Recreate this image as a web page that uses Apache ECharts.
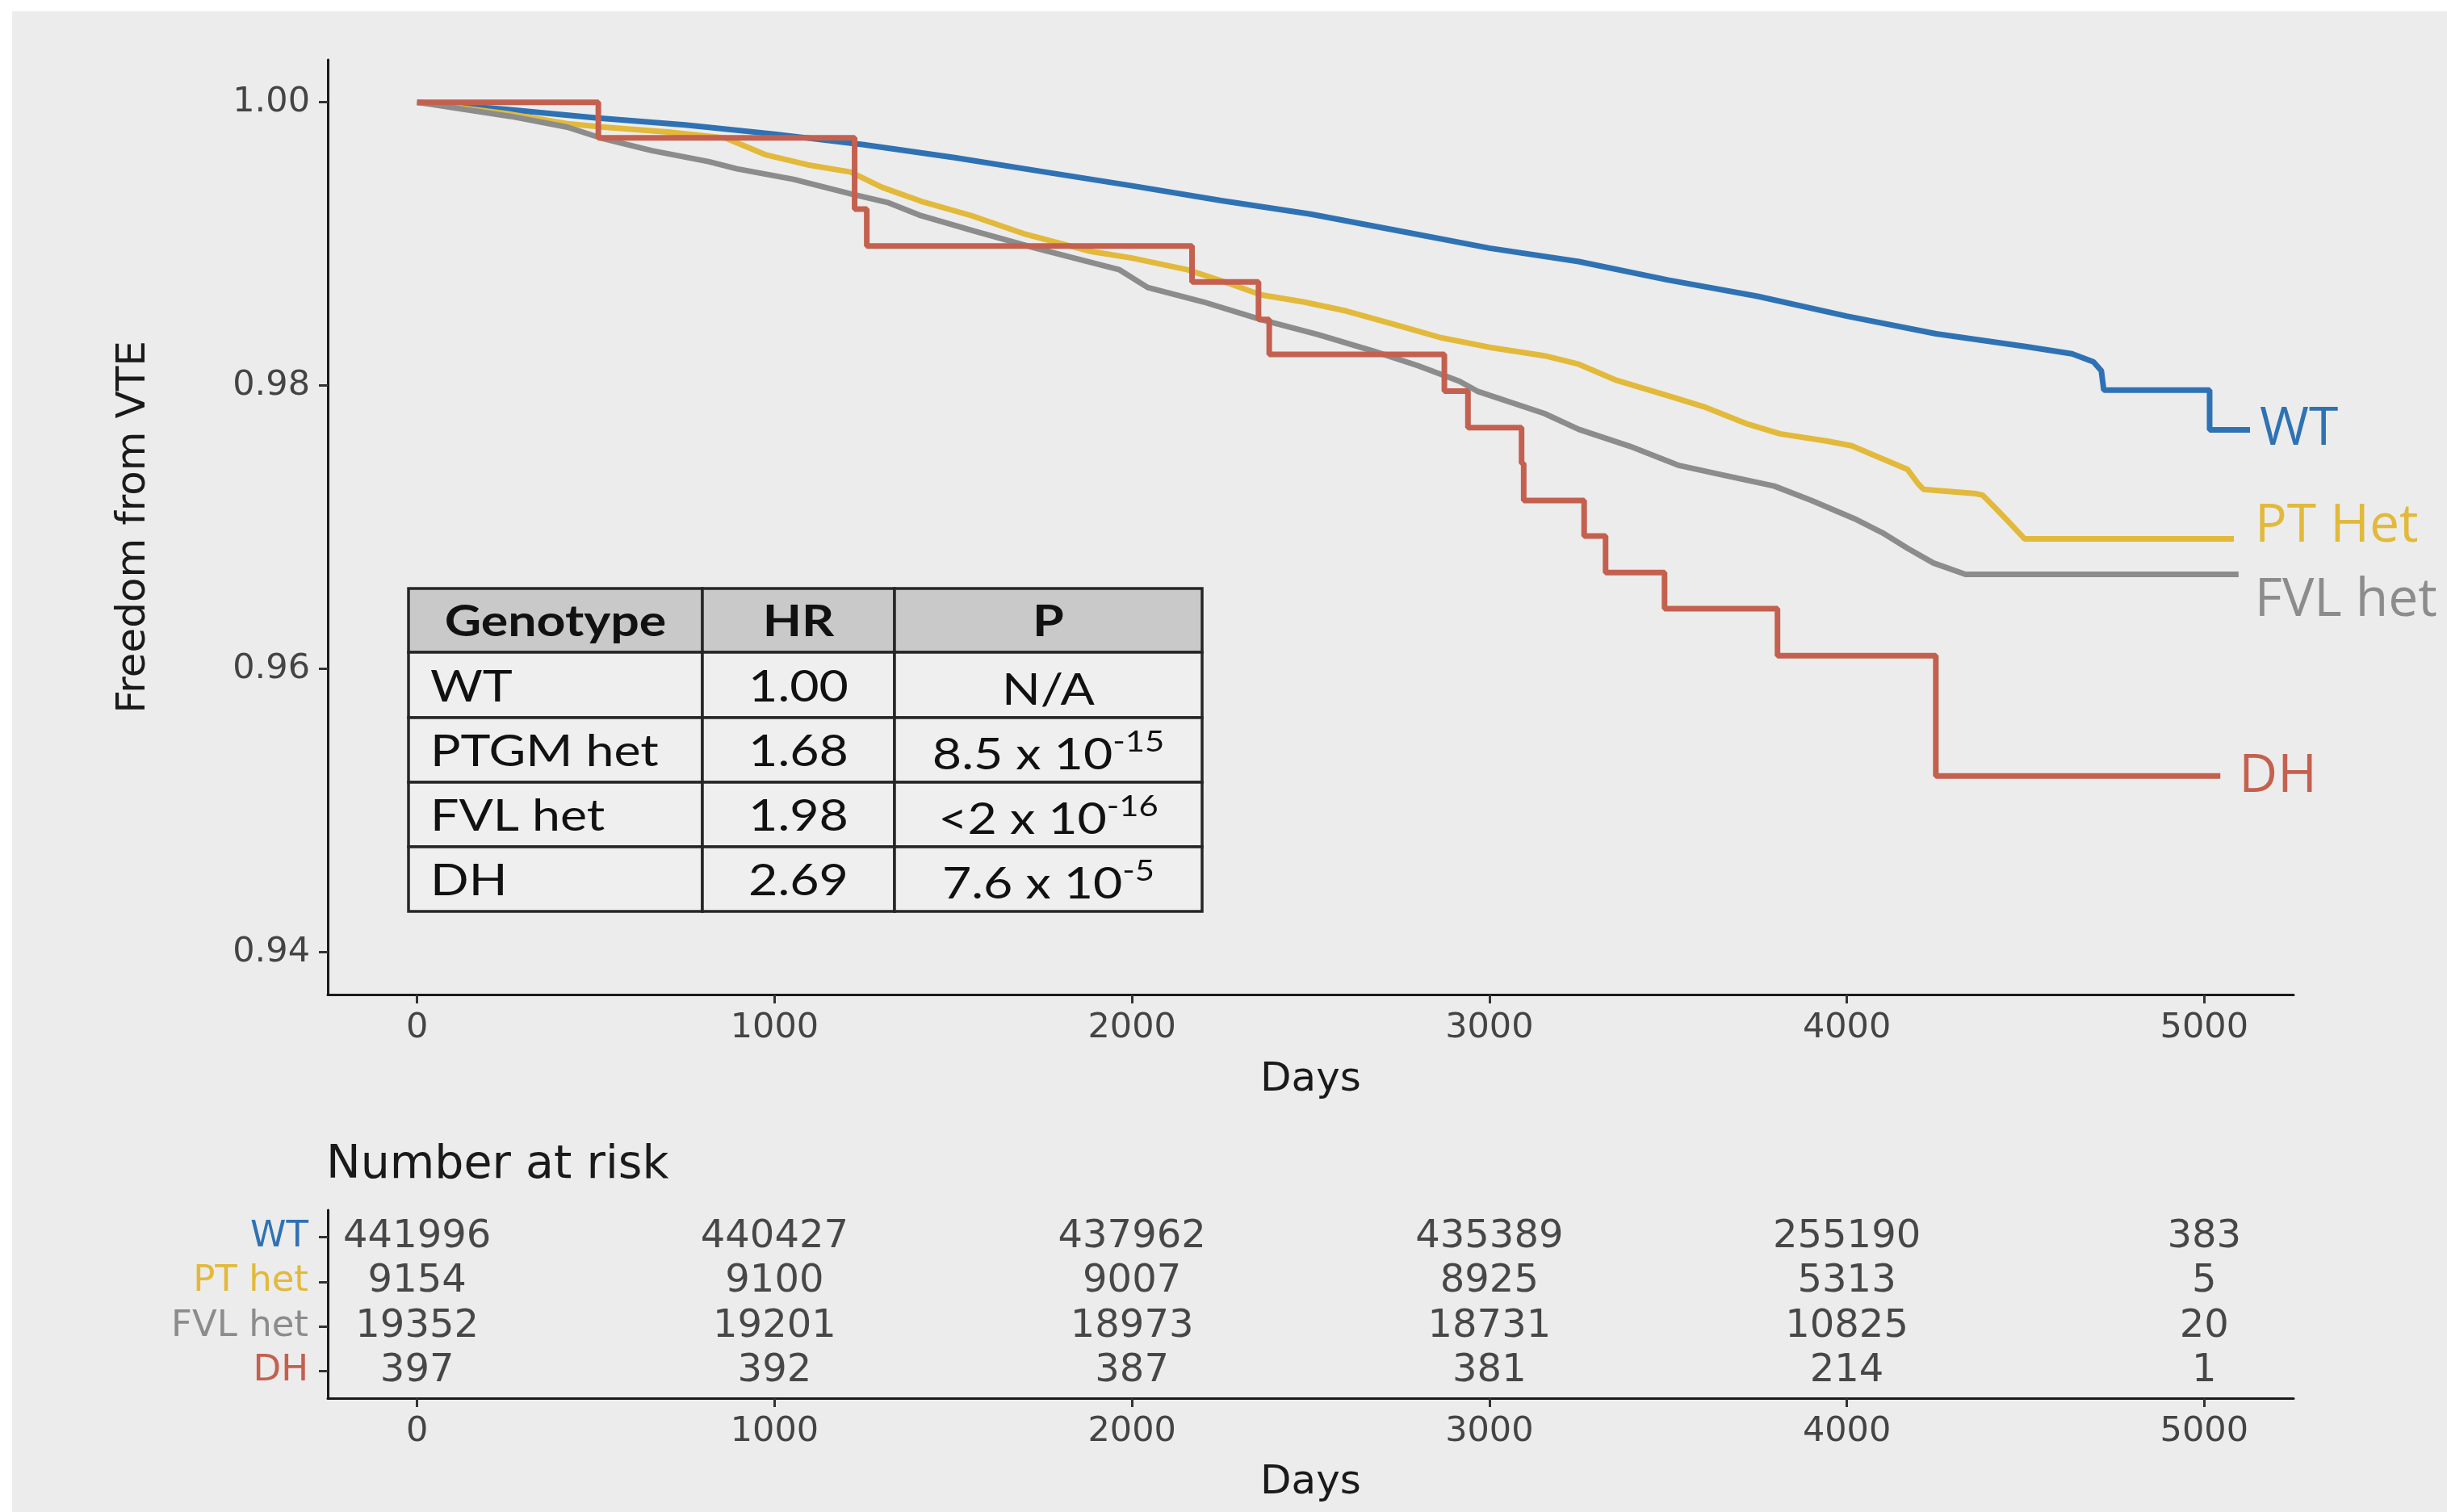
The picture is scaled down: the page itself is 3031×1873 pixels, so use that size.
<!DOCTYPE html>
<html><head><meta charset="utf-8">
<script src="https://cdn.jsdelivr.net/npm/echarts@6/dist/echarts.min.js"></script>
<style>html,body{margin:0;padding:0;background:#fff}#c{width:3031px;height:1873px}</style>
</head><body><div id="c"></div>
<script>
// ---------- data ----------
const seriesNames = ['WT', 'PT Het', 'FVL het', 'DH'];
const seriesColors = ['#2f72b4', '#e2b93b', '#8c8c8c', '#c4604f'];

const wtDays = [0, 250, 500, 750, 1000, 1250, 1500, 1750, 2000, 2250, 2500, 2750, 3000, 3250, 3500, 3750, 4000, 4250, 4500, 4630, 4690, 4712, 4719, 5015, 5015, 5128];
const wtSurv = [1.0, 0.9995, 0.9989, 0.9984, 0.99775, 0.9970, 0.9961, 0.9951, 0.9941, 0.99305, 0.9921, 0.9909, 0.9897, 0.98875, 0.98745, 0.9863, 0.9849, 0.98365, 0.98275, 0.98224, 0.98167, 0.98104, 0.97967, 0.97967, 0.97687, 0.97687];

const ptDays = [0, 250, 420, 515, 700, 863, 974, 1093, 1213, 1300, 1410, 1550, 1696, 1886, 2000, 2155, 2250, 2361, 2480, 2600, 2750, 2864, 3000, 3154, 3250, 3352, 3501, 3600, 3723, 3813, 3946, 4014, 4095, 4170, 4200, 4215, 4362, 4380, 4416, 4457, 4497, 5083];
const ptSurv = [1.0, 0.9992, 0.99849, 0.99826, 0.9979, 0.99747, 0.9963, 0.99558, 0.99507, 0.9940, 0.99301, 0.9920, 0.99073, 0.98946, 0.9890, 0.98817, 0.9874, 0.98640, 0.9859, 0.98526, 0.9842, 0.98338, 0.9827, 0.98210, 0.9815, 0.98040, 0.97927, 0.97850, 0.97727, 0.97659, 0.97607, 0.97574, 0.97487, 0.97407, 0.97305, 0.97266, 0.97236, 0.97226, 0.97134, 0.97026, 0.96918, 0.96918];

const fvlDays = [0, 262, 420, 515, 657, 815, 895, 1053, 1213, 1319, 1410, 1560, 1728, 1965, 2044, 2200, 2361, 2520, 2679, 2800, 2916, 2966, 3154, 3250, 3393, 3531, 3650, 3797, 3900, 4021, 4100, 4170, 4242, 4332, 5096];
const fvlSurv = [1.0, 0.99900, 0.99824, 0.99747, 0.99658, 0.99581, 0.99530, 0.99456, 0.99353, 0.99290, 0.99199, 0.99090, 0.98971, 0.98817, 0.98692, 0.98590, 0.98465, 0.98360, 0.98240, 0.98140, 0.98030, 0.97960, 0.97802, 0.97690, 0.97571, 0.97435, 0.97370, 0.97290, 0.97190, 0.97060, 0.96960, 0.96850, 0.96747, 0.96667, 0.96667];

const dhDays = [0, 507, 1224, 1258, 2168, 2354, 2384, 2874, 2940, 3090, 3096, 3265, 3325, 3490, 3806, 4249, 5045];
const dhSurv = [1.0, 0.99748, 0.99245, 0.98985, 0.98731, 0.98466, 0.98220, 0.97960, 0.97703, 0.97450, 0.97188, 0.96938, 0.96680, 0.96424, 0.96092, 0.95243, 0.95243];

const xTicks = [0, 1000, 2000, 3000, 4000, 5000];
const yTicks = [0.94, 0.96, 0.98, 1.00];

const riskRowNames = ['WT', 'PT het', 'FVL het', 'DH'];
const riskDays = [0, 1000, 2000, 3000, 4000, 5000];
const riskWT = [441996, 440427, 437962, 435389, 255190, 383];
const riskPT = [9154, 9100, 9007, 8925, 5313, 5];
const riskFVL = [19352, 19201, 18973, 18731, 10825, 20];
const riskDH = [397, 392, 387, 381, 214, 1];

const tableHeader = ['Genotype', 'HR', 'P'];
const tableGenotype = ['WT', 'PTGM het', 'FVL het', 'DH'];
const tableHR = ['1.00', '1.68', '1.98', '2.69'];
const tablePMain = ['N/A', '8.5 x 10', '<2 x 10', '7.6 x 10'];
const tablePExp = ['', '-15', '-16', '-5'];

// ---------- build ----------
const zip = (a, b) => a.map((v, i) => [v, b[i]]);
const curves = [zip(wtDays, wtSurv), zip(ptDays, ptSurv), zip(fvlDays, fvlSurv), zip(dhDays, dhSurv)];
const riskVals = [riskWT, riskPT, riskFVL, riskDH];
const riskData = [];
riskDays.forEach((d, j) => riskVals.forEach((row, r) => riskData.push([d, r + 1, String(row[j])])));

const TXT = 'DejaVu Sans';
const endLabelOffsets = [[0, 0], [0, -15], [0, 33], [0, 1]];
const endLabelDist = [12, 26, 20, 23];

const axisLineStyle = { show: true, onZero: false, lineStyle: { color: '#1a1a1a', width: 3 } };
const tickStyle = { color: '#333333', width: 3 };

function xAxisDef(gi, gap) {
  return {
    type: 'value', gridIndex: gi, min: -250, max: 5250,
    axisLine: axisLineStyle,
    axisTick: { show: true, length: 11, lineStyle: tickStyle, customValues: xTicks },
    axisLabel: { customValues: xTicks, formatter: v => String(v), fontSize: 43, color: '#444444', fontFamily: TXT, margin: 20 },
    splitLine: { show: false },
    name: 'Days', nameLocation: 'middle', nameGap: gap,
    nameTextStyle: { fontSize: 50, color: '#1a1a1a', fontFamily: TXT }
  };
}

const series = curves.map((data, i) => ({
  type: 'line', name: seriesNames[i], data: data,
  xAxisIndex: 0, yAxisIndex: 0,
  step: i === 3 ? 'end' : false,
  showSymbol: false, symbol: 'none',
  lineStyle: { color: seriesColors[i], width: 7 },
  itemStyle: { color: seriesColors[i] },
  z: 3 + i,
  endLabel: {
    show: true, formatter: seriesNames[i], color: seriesColors[i],
    fontFamily: 'Open Sans', fontSize: 66,
    distance: endLabelDist[i], offset: endLabelOffsets[i]
  }
}));

series.push({
  type: 'scatter', name: 'Number at risk', xAxisIndex: 1, yAxisIndex: 1,
  data: riskData, symbol: 'circle', symbolSize: 1,
  itemStyle: { color: 'rgba(0,0,0,0)' },
  label: {
    show: true, position: 'inside', formatter: p => p.data[2],
    fontSize: 48, color: '#1e1e1e', fontFamily: TXT
  }
});

// table graphic
const tblCols = [506, 870, 1108, 1489];
const tblRows = [729, 808, 889, 969, 1049, 1129];
const tblFont = 'Lato';
const tblSize = 54;
const tblScale = 1.16;
const graphic = [];
for (let r = 0; r < 5; r++) {
  for (let c = 0; c < 3; c++) {
    graphic.push({
      type: 'rect', z: 20,
      shape: { x: tblCols[c], y: tblRows[r], width: tblCols[c + 1] - tblCols[c], height: tblRows[r + 1] - tblRows[r] },
      style: { fill: r === 0 ? '#c9c9c9' : '#efefef', stroke: '#262626', lineWidth: 3.5 }
    });
  }
}
tableHeader.forEach((h, c) => {
  graphic.push({
    type: 'text', z: 21, x: (tblCols[c] + tblCols[c + 1]) / 2, y: (tblRows[0] + tblRows[1]) / 2 + 2,
    scaleX: tblScale,
    style: { text: h, fontFamily: tblFont, fontWeight: 'bold', fontSize: tblSize, fill: '#111', textAlign: 'center', textVerticalAlign: 'middle' }
  });
});
for (let i = 0; i < 4; i++) {
  const cy = (tblRows[i + 1] + tblRows[i + 2]) / 2 + 3;
  graphic.push({
    type: 'text', z: 21, x: tblCols[0] + 27, y: cy, scaleX: tblScale,
    style: { text: tableGenotype[i], fontFamily: tblFont, fontSize: tblSize, fill: '#111', textAlign: 'left', textVerticalAlign: 'middle' }
  });
  graphic.push({
    type: 'text', z: 21, x: (tblCols[1] + tblCols[2]) / 2, y: cy, scaleX: tblScale,
    style: { text: tableHR[i], fontFamily: tblFont, fontSize: tblSize, fill: '#111', textAlign: 'center', textVerticalAlign: 'middle' }
  });
  const ptxt = '{m|' + tablePMain[i] + '}' + (tablePExp[i] ? '{s|' + tablePExp[i] + '}' : '');
  graphic.push({
    type: 'text', z: 21, x: (tblCols[2] + tblCols[3]) / 2, y: cy, scaleX: tblScale,
    style: {
      text: ptxt, textAlign: 'center', textVerticalAlign: 'middle',
      rich: {
        m: { fontFamily: tblFont, fontSize: tblSize, lineHeight: 62, fill: '#111', color: '#111', verticalAlign: 'bottom' },
        s: { fontFamily: tblFont, fontSize: 36, lineHeight: 40, fill: '#111', color: '#111', verticalAlign: 'top' }
      }
    }
  });
}
// white outer margin of the picture
graphic.push({ type: 'rect', z: 100, shape: { x: 0, y: 0, width: 3031, height: 14 }, style: { fill: '#ffffff' } });
graphic.push({ type: 'rect', z: 100, shape: { x: 0, y: 0, width: 15, height: 1873 }, style: { fill: '#ffffff' } });

const option = {
  backgroundColor: '#ececec',
  animation: false,
  textStyle: { fontFamily: TXT },
  title: {
    text: 'Number at risk', left: 404, top: 1416, padding: 0,
    textStyle: { fontSize: 57, fontWeight: 'normal', color: '#1a1a1a', fontFamily: TXT }
  },
  grid: [
    { left: 406, top: 74, width: 2435, height: 1158 },
    { left: 406, top: 1499, width: 2435, height: 233 }
  ],
  xAxis: [xAxisDef(0, 81), xAxisDef(1, 80)],
  yAxis: [
    {
      type: 'value', gridIndex: 0, min: 0.937, max: 1.003,
      axisLine: axisLineStyle,
      axisTick: { show: true, length: 11, lineStyle: tickStyle, customValues: yTicks },
      axisLabel: { customValues: yTicks, formatter: v => Number(v).toFixed(2), fontSize: 43, color: '#444444', fontFamily: TXT, margin: 22 },
      splitLine: { show: false },
      name: 'Freedom from VTE', nameLocation: 'middle', nameGap: 215,
      nameTextStyle: { fontSize: 50, color: '#1a1a1a', fontFamily: TXT }
    },
    {
      type: 'value', gridIndex: 1, min: 0.4, max: 4.6, inverse: true,
      axisLine: axisLineStyle,
      axisTick: { show: true, length: 11, lineStyle: tickStyle, customValues: [1, 2, 3, 4] },
      axisLabel: {
        customValues: [1, 2, 3, 4],
        formatter: v => riskRowNames[Math.round(Number(v)) - 1],
        color: v => seriesColors[Math.round(Number(v)) - 1],
        fontSize: 45, fontFamily: TXT, margin: 24
      },
      splitLine: { show: false }
    }
  ],
  series: series,
  graphic: graphic
};

const chart = echarts.init(document.getElementById('c'), null, { renderer: 'canvas' });
chart.setOption(option);
</script>
</body></html>
